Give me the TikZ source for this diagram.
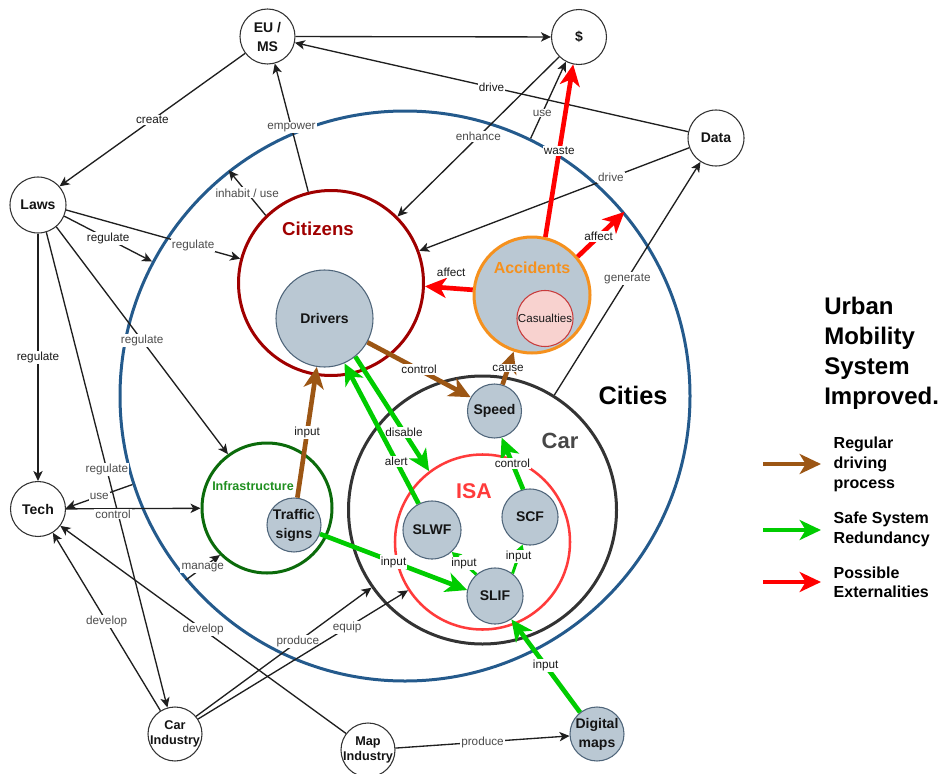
\documentclass[tikz,border=0pt]{standalone}
\usepackage{fontspec}
\setmainfont{Liberation Sans}
\usetikzlibrary{arrows.meta}
\definecolor{cblue}{HTML}{245A8C}
\definecolor{cred}{HTML}{A00000}
\definecolor{corange}{HTML}{F5911E}
\definecolor{cisa}{HTML}{FF3B3B}
\definecolor{cinfra}{HTML}{0B6B0B}
\definecolor{cinfratxt}{HTML}{1F8F1F}
\definecolor{ccar}{HTML}{333333}
\definecolor{gbfill}{HTML}{BAC8D3}
\definecolor{gbdraw}{HTML}{4F657A}
\definecolor{casfill}{HTML}{F8D2CF}
\definecolor{casdraw}{HTML}{C83C3C}
\definecolor{cbrown}{HTML}{9C5614}
\definecolor{cgreen}{HTML}{00CC00}
\definecolor{cred2}{HTML}{FF0000}
\begin{document}
\begin{tikzpicture}[x=0.75pt,y=-0.75pt,
  circ/.style={circle,inner sep=0pt,minimum size=#1},
  wnode/.style={circ=#1,draw=black!80,line width=0.8pt,fill=white},
  gnode/.style={circ=#1,draw=gbdraw,line width=0.8pt,fill=gbfill},
  ntxt/.style={font=\fontsize{10.5}{14.25}\selectfont\bfseries,align=center,text=black!92},
  ntxts/.style={font=\fontsize{9.5}{11.5}\selectfont\bfseries,align=center,text=black!92},
  lbl/.style={font=\fontsize{8.8}{10}\selectfont,text=black!70,fill=white,inner sep=0.8pt},
  lblD/.style={font=\fontsize{8.8}{10}\selectfont,text=black!90,fill=white,inner sep=0.8pt},
  blk/.style={draw=black!88,line width=1pt,-{Stealth[length=7.5pt,width=7pt,inset=2pt]}},
  thickarr/.style={line width=3.5pt,-{Stealth[length=16pt,width=15pt,inset=4.5pt]}},
  brn/.style={thickarr,draw=cbrown,fill=cbrown},
  grn/.style={thickarr,draw=cgreen,fill=cgreen},
  rda/.style={thickarr,draw=cred2,fill=cred2},
  grnT/.style={draw=cgreen,line width=2.2pt,-{Stealth[length=7pt,width=8pt,inset=2pt]}},
  legtxt/.style={font=\fontsize{12}{15}\selectfont\bfseries,align=left,anchor=west,text=black}
]
\useasboundingbox (0,0) rectangle (942,774);

% containers
\node[circ=427.5pt,draw=cblue,line width=2.25pt] (cities) at (405,396) {};
\node[circ=138.75pt,draw=cred,line width=2.25pt] (citizens) at (331,283) {};
\node[circ=87pt,draw=corange,line width=2.25pt,fill=gbfill] (accidents) at (532,295) {};
\node[circ=201pt,draw=ccar,line width=2.25pt] (car) at (482.5,510) {};
\node[circ=131.25pt,draw=cisa,line width=1.9pt] (isa) at (482.5,542) {};
\node[circ=97.5pt,draw=cinfra,line width=2.25pt] (infra) at (267,508) {};

% titles
\node[font=\fontsize{19}{22}\selectfont\bfseries,text=black] (tCities) at (633,395) {Cities};
\node[font=\fontsize{14}{16}\selectfont\bfseries,text=cred] (tCitizens) at (318,229) {Citizens};
\node[font=\fontsize{12}{14}\selectfont\bfseries,text=corange] (tAcc) at (532,268) {Accidents};
\node[font=\fontsize{16.5}{18}\selectfont\bfseries,text=black!72] (tCar) at (560,441) {Car};
\node[font=\fontsize{16}{18}\selectfont\bfseries,text=cisa] (tIsa) at (474,491) {ISA};
\node[font=\fontsize{9.4}{11}\selectfont\bfseries,text=cinfratxt] (tInfra) at (253,486) {Infrastructure};

% white nodes
\node[wnode=41.25pt,label={[ntxt]center:EU /\\MS}] (eu) at (267.5,36.5) {};
\node[wnode=41.25pt,label={[ntxt]center:\$}] (dollar) at (579,37) {};
\node[wnode=42pt,label={[ntxt]center:Data}] (data) at (716,138) {};
\node[wnode=42pt,label={[ntxt]center:Laws}] (laws) at (38,205) {};
\node[wnode=41.25pt,label={[ntxt]center:Tech}] (tech) at (38,509) {};
\node[wnode=40.5pt,label={[ntxts]center:Car\\Industry}] (carind) at (175,734) {};
\node[wnode=40.5pt,label={[ntxts]center:Map\\Industry}] (mapind) at (368,750) {};

% grey-blue nodes
\node[gnode=40.5pt,label={[ntxt]center:Digital\\maps}] (dmaps) at (597,734) {};
\node[gnode=72.75pt,label={[ntxt]center:Drivers}] (drivers) at (324.5,318.5) {};
\node[circ=42pt,draw=casdraw,line width=0.8pt,fill=casfill,label={[font=\fontsize{8.7}{10}\selectfont,text=black!90]center:Casualties}] (casualties) at (545,318.5) {};
\node[gnode=40.5pt,label={[ntxt]center:Speed}] (speed) at (494.5,411) {};
\node[gnode=43.5pt,label={[ntxt]center:SLWF}] (slwf) at (432,530) {};
\node[gnode=42pt,label={[ntxt]center:SCF}] (scf) at (530,517) {};
\node[gnode=42pt,label={[ntxt]center:SLIF}] (slif) at (495,596) {};
\node[gnode=40.5pt,label={[ntxt]center:Traffic\\signs}] (tsigns) at (294,525) {};

% black connectors
\draw[blk] (eu) -- (dollar);
\draw[blk] (data) -- node[lblD]{drive} (eu);
\draw[blk] (data.200) -- node[lbl,pos=0.29]{drive} (citizens.20);
\draw[blk] (dollar.225) -- node[lbl]{enhance} (citizens.45);
\draw[blk] (cities.64) -- node[lbl,pos=0.33]{use} (dollar.242);
\draw[blk] (citizens.104) -- node[lbl]{empower} (eu.-75);
\draw[blk] (citizens.134) -- node[lbl]{inhabit / use} (cities.128);
\draw[blk] (eu.217) -- node[lblD]{create} (laws.41);
\draw[blk] (laws.-10) -- node[lbl,pos=0.73]{regulate} (citizens.165);
\draw[blk] (laws.-23) -- node[lblD]{regulate} (cities.152);
\draw[blk] (laws.-50) -- node[lbl]{regulate} (infra.126);
\draw[blk] (laws) -- node[lblD]{regulate} (tech);
\draw[blk] (laws.-73) -- node[lbl]{regulate} (carind.106);
\draw[blk] (cities.198) -- node[lbl]{use} (tech.2);
\draw[blk] (tech) -- node[lbl,pos=0.35,yshift=-4pt]{control} (infra);
\draw[blk] (cities.220) -- node[lbl]{manage} (infra.225);
\draw[blk] (carind.122) -- node[lbl]{develop} (tech.-58);
\draw[blk] (mapind.143) -- node[lbl]{develop} (tech.-37);
\draw[blk] (carind.40) -- node[lbl,pos=0.58]{produce} (car.215.5);
\draw[blk] (carind.33) -- node[lbl,pos=0.71]{equip} (isa.213.5);
\draw[blk] (mapind) -- node[lbl]{produce} (dmaps);
\draw[blk] (car.58) -- node[lbl]{generate} (data.237);

% red connectors
\draw[rda] (accidents.77) -- node[lblD]{waste} (dollar.258);
\draw[rda] (accidents.40) -- node[lblD,pos=0.45]{affect} (cities.40);
\draw[rda] (accidents.175) -- node[lblD,pos=0.45,above=6pt]{affect} (citizens.-2);

% brown connectors
\draw[brn] (drivers.-29) -- node[lblD]{control} (speed.150);
\draw[brn] (tsigns.83) -- node[lblD]{input} (drivers.261);
\draw[brn] (speed.73) -- node[lblD]{cause} (accidents.252);

% green connectors
\draw[grn] (drivers.-51) -- node[lblD,pos=0.66]{disable} (isa.127);
\draw[grn] (slwf.117) -- node[lblD,pos=0.3]{alert} (drivers.-66);
\draw[grn] (tsigns.-19) -- node[lblD]{input} (slif.168);
\draw[grnT] (slif.131) -- node[lblD]{input} (slwf.-48);
\draw[grnT] (slif.52) -- node[lblD,pos=0.6]{input} (scf.-105);
\draw[grn] (scf.104) -- node[lblD]{control} (speed.-75);
\draw[grn] (dmaps.128) -- node[lblD]{input} (slif.-55);

% legend
\node[font=\fontsize{18}{22.5}\selectfont\bfseries,align=left,anchor=west,inner sep=0pt] (title) at (824,353) {Urban\\Mobility\\System\\Improved.};
\coordinate (lA1) at (763,464); \coordinate (lA2) at (821,464);
\coordinate (lB1) at (763,530); \coordinate (lB2) at (821,530);
\coordinate (lC1) at (763,582); \coordinate (lC2) at (821,582);
\draw[brn] (lA1) -- (lA2);
\draw[grn] (lB1) -- (lB2);
\draw[rda] (lC1) -- (lC2);
\node[legtxt] (legA) at (829,464) {Regular\\driving\\process};
\node[legtxt,font=\fontsize{12}{14.5}\selectfont\bfseries] (legB) at (829,529.5) {Safe System\\Redundancy};
\node[legtxt,font=\fontsize{12}{14.5}\selectfont\bfseries] (legC) at (829,582.5) {Possible\\Externalities};
\end{tikzpicture}
\end{document}
